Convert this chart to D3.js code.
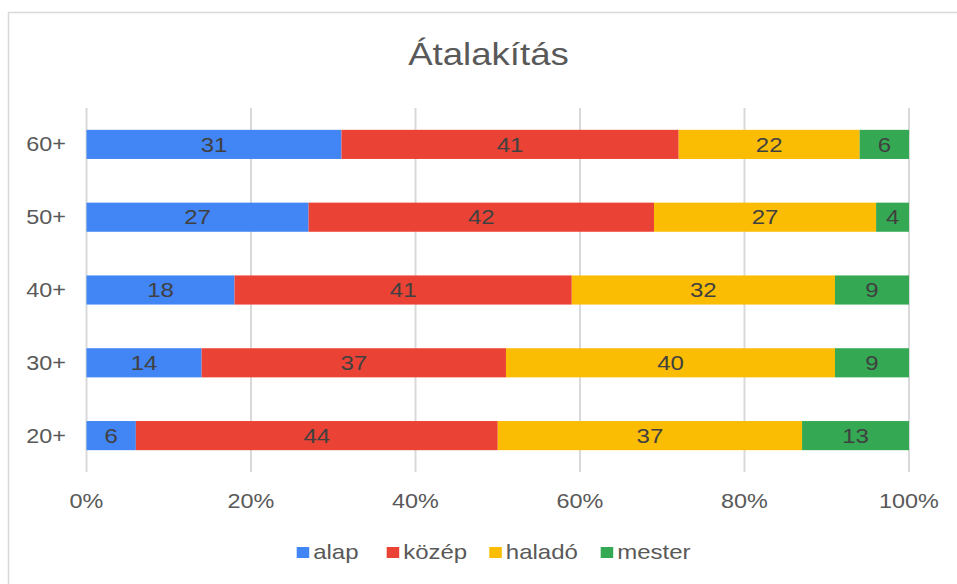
<!DOCTYPE html>
<html>
<head>
<meta charset="utf-8">
<script src="https://cdn.jsdelivr.net/npm/d3@7"></script>
<style>
  html, body { margin: 0; padding: 0; background: #fff; }
  svg { display: block; font-family: "Liberation Sans", Arial, sans-serif; }
</style>
</head>
<body>
<svg id="chart" width="957" height="584"></svg>
<script>
const title = "Átalakítás";
const categories = ["60+", "50+", "40+", "30+", "20+"];
const seriesNames = ["alap", "közép", "haladó", "mester"];
const seriesColors = ["#4285f4", "#ea4335", "#fbbc04", "#34a853"];
const alap   = [31, 27, 18, 14, 6];
const kozep  = [41, 42, 41, 37, 44];
const halado = [22, 27, 32, 40, 37];
const mester = [6, 4, 9, 9, 13];
const xTicks = [0, 20, 40, 60, 80, 100];

const seriesValues = [alap, kozep, halado, mester];
const table = categories.map((c, i) => {
  const row = { cat: c };
  seriesNames.forEach((s, j) => row[s] = seriesValues[j][i]);
  return row;
});

const svg = d3.select("#chart");
const SX = 1.2; // horizontal stretch of text in reference

function stretchedText(sel, x, y, txt, opts) {
  const g = sel.append("g").attr("transform", `translate(${x},${y}) scale(${SX},1)`);
  const t = g.append("text")
    .attr("x", 0).attr("y", 0)
    .attr("text-anchor", opts.anchor || "middle")
    .attr("font-size", opts.size || 19.5)
    .attr("fill", opts.color || "#595959")
    .text(txt);
  if (opts.dy) t.attr("dy", opts.dy);
  return t;
}

// border
svg.append("rect")
  .attr("x", 8.5).attr("y", 12.5)
  .attr("width", 1200).attr("height", 1200)
  .attr("fill", "none").attr("stroke", "#d9d9d9").attr("stroke-width", 1.5);

// title
stretchedText(svg, 488.5, 65, title, { size: 30.5, color: "#595959" });

const x = d3.scaleLinear().domain([0, 100]).range([86.5, 909]);
const y = d3.scaleBand().domain(categories).range([108, 472])
  .paddingInner(0.6).paddingOuter(0.3);

// gridlines
svg.append("g").selectAll("line").data(xTicks).join("line")
  .attr("x1", d => x(d)).attr("x2", d => x(d))
  .attr("y1", 108).attr("y2", 472)
  .attr("stroke", "#d9d9d9").attr("stroke-width", 2);

// stacked bars
const stack = d3.stack().keys(seriesNames)(table);
const color = d3.scaleOrdinal().domain(seriesNames).range(seriesColors);

const layers = svg.append("g").selectAll("g").data(stack).join("g")
  .attr("fill", d => color(d.key));
layers.selectAll("rect").data(d => d).join("rect")
  .attr("x", d => x(d[0]))
  .attr("width", d => x(d[1]) - x(d[0]))
  .attr("y", d => y(d.data.cat))
  .attr("height", y.bandwidth());

// bar labels
const labelG = svg.append("g");
stack.forEach(layer => {
  layer.forEach(d => {
    const v = d[1] - d[0];
    stretchedText(labelG, (x(d[0]) + x(d[1])) / 2, y(d.data.cat) + y.bandwidth() / 2, v,
      { size: 20, color: "#404040", dy: "0.36em" });
  });
});

// y axis labels
categories.forEach(c => {
  stretchedText(svg, 66, y(c) + y.bandwidth() / 2, c, { anchor: "end", size: 19.5, dy: "0.36em" });
});

// x axis labels
xTicks.forEach(t => {
  stretchedText(svg, x(t), 508, t + "%", { size: 19.5 });
});

// legend (item left edges as laid out in the reference)
const legendLeft = [296.7, 386.7, 489.3, 600.7];
const legend = svg.append("g");
seriesNames.forEach((s, i) => {
  const lx = legendLeft[i];
  legend.append("rect")
    .attr("x", lx).attr("y", 547)
    .attr("width", 12.5).attr("height", 11)
    .attr("fill", seriesColors[i]);
  stretchedText(legend, lx + 16.5, 559, s, { anchor: "start", size: 20 });
});
</script>
</body>
</html>
